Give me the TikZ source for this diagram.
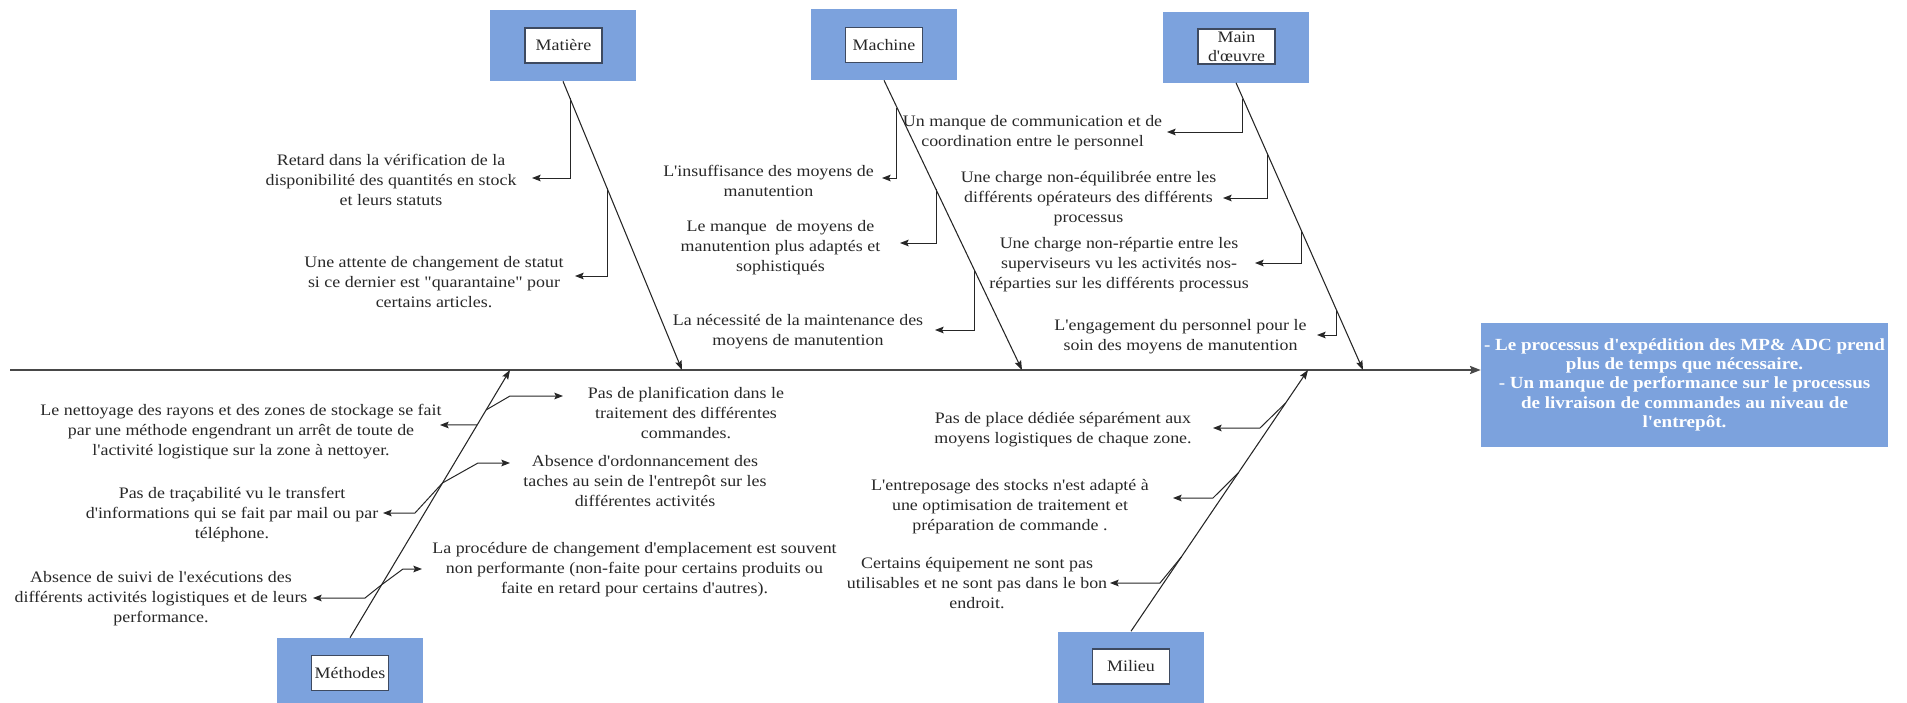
\documentclass[tikz,border=0pt]{standalone}
\usepackage{fontspec}
\setmainfont{Liberation Serif}[FakeStretch=1.12,Ligatures=TeXOff]
\usetikzlibrary{arrows.meta,calc}
\definecolor{catblue}{RGB}{124,162,221}
\definecolor{frameink}{RGB}{62,74,96}
\definecolor{spineink}{RGB}{72,72,72}
\definecolor{inkgray}{RGB}{40,40,40}
\begin{document}
\begin{tikzpicture}[x=0.75pt,y=-0.75pt,
  lbl/.style={align=center,inner sep=0pt,text=inkgray,font=\fontsize{12pt}{15pt}\selectfont},
  band/.style={fill=catblue,draw=none,minimum width=109.5pt,minimum height=53.25pt,inner sep=0pt},
  tag/.style={fill=white,draw=frameink,line width=1pt,minimum width=57.75pt,minimum height=26.25pt,inner sep=0pt,align=center,text=inkgray,font=\fontsize{12pt}{14pt}\selectfont},
  bone/.style={draw=black!85,line width=0.8pt,-{Stealth[length=7pt,width=5pt,inset=1.2pt]}},
  twig/.style={draw=black!85,line width=0.75pt,-{Stealth[length=6.5pt,width=5pt,inset=1.2pt]}},
  spine/.style={draw=spineink,line width=1.5pt,-{Stealth[length=8pt,width=6pt,inset=1.2pt]}},
  effbox/.style={fill=catblue,draw=none,minimum width=305.25pt,minimum height=93pt,inner sep=0pt},
  efftxt/.style={align=center,inner sep=0pt,text=white,font=\bfseries\fontsize{12.75pt}{14.5pt}\selectfont}]
\useasboundingbox (0,0) rectangle (1907,703);
\clip (0,0) rectangle (1907,703);

% category boxes
\node[band] (matB) at (563,45.5) {};
\node[tag]  (mat)  at (563.5,45.5) {Matière};
\node[band] (macB) at (884,44.5) {};
\node[tag]  (mac)  at (884,45) {Machine};
\node[band] (moB)  at (1236,47) {};
\node[tag]  (mo)   at (1236.5,46.5) {Main\\d'œuvre};
\node[band] (metB) at (350,673.5) {};
\node[tag]  (met)  at (350,673) {Méthodes};
\node[band] (milB) at (1131,667) {};
\node[tag]  (mil)  at (1131,666.5) {Milieu};

% effect box
\node[effbox] (eff) at (1684.5,385) {};
\node[efftxt,anchor=north] (efft) at ([yshift=-11.5pt]eff.north)
  {- Le processus d'expédition des MP\& ADC prend\\plus de temps que nécessaire.\\- Un manque de performance sur le processus\\de livraison de commandes au niveau de\\l'entrepôt.};

% spine
\coordinate (s0) at (10,370);
\draw[spine] (s0) -- (s0 -| eff.west);

% bone ends on the spine
\coordinate (matE) at (682,370);
\coordinate (macE) at (1022,370);
\coordinate (moE)  at (1363,370);
\coordinate (metE) at (510,370);
\coordinate (milE) at (1308,370);

\draw[bone] (matB.south) -- (matE);
\draw[bone] (macB.south) -- (macE);
\draw[bone] (moB.south)  -- (moE);
\draw[bone] (metB.north) -- (metE);
\draw[bone] (milB.north) -- (milE);

% cause texts
\node[lbl] (l1) at (391,180) {Retard dans la vérification de la\\disponibilité des quantités en stock\\et leurs statuts};
\node[lbl] (l2) at (434,282) {Une attente de changement de statut\\si ce dernier est "quarantaine" pour\\certains articles.};
\node[lbl] (l3) at (768.5,181) {L'insuffisance des moyens de\\manutention};
\node[lbl] (l4) at (780.5,248) {Le manque \ de moyens de\\manutention plus adaptés et\\sophistiqués};
\node[lbl] (l5) at (798,332) {La nécessité de la maintenance des\\moyens de manutention};
\node[lbl] (l6) at (1032.5,133) {Un manque de communication et de\\coordination entre le personnel};
\node[lbl] (l7) at (1088.5,199) {Une charge non-équilibrée entre les\\différents opérateurs des différents\\processus};
\node[lbl] (l8) at (1119,265) {Une charge non-répartie entre les\\superviseurs vu les activités nos-\\réparties sur les différents processus};
\node[lbl] (l9) at (1180.5,337) {L'engagement du personnel pour le\\soin des moyens de manutention};
\node[lbl] (l10) at (241,432) {Le nettoyage des rayons et des zones de stockage se fait\\par une méthode engendrant un arrêt de toute de\\l'activité logistique sur la zone à nettoyer.};
\node[lbl] (l11) at (232,515) {Pas de traçabilité vu le transfert\\d'informations qui se fait par mail ou par\\téléphone.};
\node[lbl] (l12) at (161,599) {Absence de suivi de l'exécutions des\\différents activités logistiques et de leurs\\performance.};
\node[lbl] (l13) at (686,413) {Pas de planification dans le\\traitement des différentes\\commandes.};
\node[lbl] (l14) at (645,481) {Absence d'ordonnancement des\\taches au sein de l'entrepôt sur les\\différentes activités};
\node[lbl] (l15) at (634.5,570) {La procédure de changement d'emplacement est souvent\\non performante (non-faite pour certains produits ou\\faite en retard pour certains d'autres).};
\node[lbl] (l16) at (1063,430) {Pas de place dédiée séparément aux\\moyens logistiques de chaque zone.};
\node[lbl] (l17) at (1010,507) {L'entreposage des stocks n'est adapté à\\une optimisation de traitement et\\préparation de commande .};
\node[lbl] (l18) at (977,583) {Certains équipement ne sont pas\\utilisables et ne sont pas dans le bon\\endroit.};

% arrow tips next to the texts
\coordinate (t1) at (532,178);
\coordinate (t2) at (575,276);
\coordinate (t3) at (882,178);
\coordinate (t4) at (900,243);
\coordinate (t5) at (935,330);
\coordinate (t6) at (1167,132);
\coordinate (t7) at (1223,198);
\coordinate (t8) at (1255,263);
\coordinate (t9) at (1317,335);
\coordinate (t10) at (440,425);
\coordinate (t11) at (383,513);
\coordinate (t12) at (313,598);
\coordinate (t13) at (563,396);
\coordinate (t14) at (510,463);
\coordinate (t15) at (422,569);
\coordinate (t16) at (1213,428);
\coordinate (t17) at (1173,498);
\coordinate (t18) at (1110,583);

% branch roots on the bones
\coordinate (b1) at ($(matB.south)!0.059!(matE)$);
\coordinate (b2) at ($(matB.south)!0.370!(matE)$);
\coordinate (b3) at ($(macB.south)!0.094!(macE)$);
\coordinate (b4) at ($(macB.south)!0.377!(macE)$);
\coordinate (b5) at ($(macB.south)!0.659!(macE)$);
\coordinate (b6) at ($(moB.south)!0.055!(moE)$);
\coordinate (b7) at ($(moB.south)!0.244!(moE)$);
\coordinate (b8) at ($(moB.south)!0.512!(moE)$);
\coordinate (b9) at ($(moB.south)!0.795!(moE)$);
\coordinate (b10) at ($(metB.north)!0.795!(metE)$);
\coordinate (b13) at ($(metB.north)!0.851!(metE)$);
\coordinate (b11) at ($(metB.north)!0.578!(metE)$);
\coordinate (b12) at ($(metB.north)!0.198!(metE)$);
\coordinate (b16) at ($(milB.north)!0.874!(milE)$);
\coordinate (b17) at ($(milB.north)!0.606!(milE)$);
\coordinate (b18) at ($(milB.north)!0.285!(milE)$);

% top branches
\draw[twig] (b1) |- (t1);
\draw[twig] (b2) |- (t2);
\draw[twig] (b3) |- (t3);
\draw[twig] (b4) |- (t4);
\draw[twig] (b5) |- (t5);
\draw[twig] (b6) |- (t6);
\draw[twig] (b7) |- (t7);
\draw[twig] (b8) |- (t8);
\draw[twig] (b9) |- (t9);

% Méthodes branches
\coordinate (k13) at (510,396);
\coordinate (k11) at (415,513);
\coordinate (k14) at (478,463);
\coordinate (k12) at (365,598);
\coordinate (k15) at (403,569);
\draw[twig] (b10) -- (t10);
\draw[twig] (b13) -- (k13) -- (t13);
\draw[twig] (b11) -- (k11) -- (t11);
\draw[twig] (b11) -- (k14) -- (t14);
\draw[twig] (b12) -- (k12) -- (t12);
\draw[twig] (b12) -- (k15) -- (t15);

% Milieu branches
\coordinate (k16) at (1260,428);
\coordinate (k17) at (1213,498);
\coordinate (k18) at (1160,583);
\draw[twig] (b16) -- (k16) -- (t16);
\draw[twig] (b17) -- (k17) -- (t17);
\draw[twig] (b18) -- (k18) -- (t18);
\end{tikzpicture}
\end{document}
